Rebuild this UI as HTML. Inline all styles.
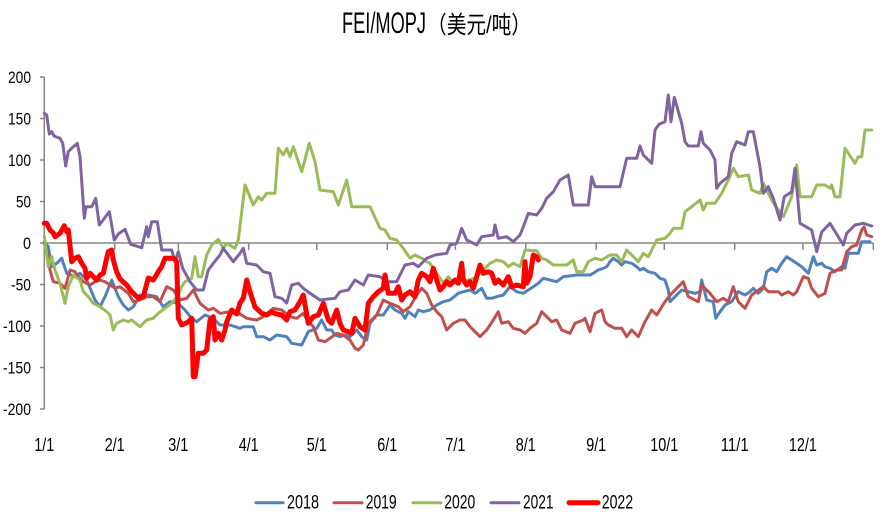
<!DOCTYPE html>
<html><head><meta charset="utf-8"><style>
html,body{margin:0;padding:0;background:#fff;}
svg{display:block;}
text{font-family:"Liberation Sans","Noto Sans CJK SC",sans-serif;fill:#000;}
</style></head><body>
<svg width="885" height="516" viewBox="0 0 885 516" xmlns="http://www.w3.org/2000/svg">
<rect width="885" height="516" fill="#fff"/>
<!-- title -->
<text x="342" y="33" font-size="30" textLength="84" lengthAdjust="spacingAndGlyphs">FEI/MOPJ</text>
<text x="427" y="33" font-size="24" font-family="'Liberation Sans','Noto Sans CJK SC',sans-serif" textLength="104" lengthAdjust="spacingAndGlyphs">（美元/吨）</text>

<!-- axes -->
<g stroke="#868686" stroke-width="1.5" fill="none">
<line x1="44.3" y1="77" x2="44.3" y2="409"/>
<line x1="40" y1="77" x2="44.3" y2="77"/>
<line x1="40" y1="118.5" x2="44.3" y2="118.5"/>
<line x1="40" y1="160" x2="44.3" y2="160"/>
<line x1="40" y1="201.5" x2="44.3" y2="201.5"/>
<line x1="40" y1="243" x2="44.3" y2="243"/>
<line x1="40" y1="284.5" x2="44.3" y2="284.5"/>
<line x1="40" y1="326" x2="44.3" y2="326"/>
<line x1="40" y1="367.5" x2="44.3" y2="367.5"/>
<line x1="40" y1="409" x2="44.3" y2="409"/>
<line x1="44.3" y1="243" x2="873.3" y2="243"/>
<line x1="114.7" y1="243" x2="114.7" y2="250"/>
<line x1="178.3" y1="243" x2="178.3" y2="250"/>
<line x1="248.7" y1="243" x2="248.7" y2="250"/>
<line x1="316.8" y1="243" x2="316.8" y2="250"/>
<line x1="387.3" y1="243" x2="387.3" y2="250"/>
<line x1="455.4" y1="243" x2="455.4" y2="250"/>
<line x1="525.8" y1="243" x2="525.8" y2="250"/>
<line x1="596.2" y1="243" x2="596.2" y2="250"/>
<line x1="664.3" y1="243" x2="664.3" y2="250"/>
<line x1="734.7" y1="243" x2="734.7" y2="250"/>
<line x1="802.9" y1="243" x2="802.9" y2="250"/>
<line x1="873.3" y1="243" x2="873.3" y2="250"/>
</g>

<!-- y labels -->
<g font-size="17" text-anchor="end">
<text x="31" y="83" textLength="23" lengthAdjust="spacingAndGlyphs">200</text>
<text x="31" y="124.5" textLength="23" lengthAdjust="spacingAndGlyphs">150</text>
<text x="31" y="166" textLength="23" lengthAdjust="spacingAndGlyphs">100</text>
<text x="31" y="207.5" textLength="15" lengthAdjust="spacingAndGlyphs">50</text>
<text x="31" y="249" textLength="8" lengthAdjust="spacingAndGlyphs">0</text>
<text x="31" y="290.5" textLength="20" lengthAdjust="spacingAndGlyphs">-50</text>
<text x="31" y="332" textLength="28" lengthAdjust="spacingAndGlyphs">-100</text>
<text x="31" y="373.5" textLength="28" lengthAdjust="spacingAndGlyphs">-150</text>
<text x="31" y="415" textLength="28" lengthAdjust="spacingAndGlyphs">-200</text>
</g>

<!-- x labels -->
<g font-size="18">
<text x="34.3" y="451" textLength="20" lengthAdjust="spacingAndGlyphs">1/1</text>
<text x="104.7" y="451" textLength="20" lengthAdjust="spacingAndGlyphs">2/1</text>
<text x="168.3" y="451" textLength="20" lengthAdjust="spacingAndGlyphs">3/1</text>
<text x="238.7" y="451" textLength="20" lengthAdjust="spacingAndGlyphs">4/1</text>
<text x="306.8" y="451" textLength="20" lengthAdjust="spacingAndGlyphs">5/1</text>
<text x="377.3" y="451" textLength="20" lengthAdjust="spacingAndGlyphs">6/1</text>
<text x="445.4" y="451" textLength="20" lengthAdjust="spacingAndGlyphs">7/1</text>
<text x="515.8" y="451" textLength="20" lengthAdjust="spacingAndGlyphs">8/1</text>
<text x="586.2" y="451" textLength="20" lengthAdjust="spacingAndGlyphs">9/1</text>
<text x="650.3" y="451" textLength="28" lengthAdjust="spacingAndGlyphs">10/1</text>
<text x="720.7" y="451" textLength="28" lengthAdjust="spacingAndGlyphs">11/1</text>
<text x="788.9" y="451" textLength="28" lengthAdjust="spacingAndGlyphs">12/1</text>
</g>

<!-- series -->
<g fill="none" stroke-linejoin="round" stroke-linecap="round">
<polyline stroke="#4F81BD" stroke-width="3" points="44.3,241.7 48.3,246.7 51.7,266.7 56.7,263.3 61.7,258.3 66.7,273.3 75,276.7 80,273.3 86.7,280 95,300 100,306.7 105,296.7 111.7,280 118.3,296.7 123.3,305 128.3,310 133.3,306.7 140,295 148.3,295 156.7,296.7 163.3,306.7 170,301.7 178.3,303.3 185,310 191.7,318.3 196.7,321.7 205,315 213.3,318.3 220,325 230,325 240,328.3 243.3,326.7 253.3,326.7 256.7,336.7 263.3,336.7 270,340 276.7,335 286.7,336.7 291.7,343.3 301.7,345 308.3,331.7 316.7,328.3 321.7,320 326.7,330 331.7,330 335,335 340,336.7 345,335 350,336.7 356.7,330 361.7,336.7 366.7,340 370,323.3 376.7,315 383.3,315 390,305 395,310 401.7,313.3 405,318.3 408.3,311.7 415,316.7 418.3,310 423.3,311.7 430,310 436.7,305 443.3,301.7 450,300 458.3,293.3 463.3,291.7 470,290 475,293.3 481.7,288.3 486.7,298.3 491.7,298.3 496.7,296.7 503.3,295 510,286.7 516.7,291.7 523.3,293.3 528.3,290 533.3,286.7 538.3,283.3 543.3,278.3 550,280 556.7,281.7 563.3,276.7 576.7,275 590,275 593.3,273.3 598.3,270 603.3,268.3 606.7,266.7 610,261.7 613.3,258.3 618.3,261.7 621.7,265 625,261.7 631.7,263.3 636.7,266.7 640,270 643.3,268.3 648.3,271.7 655,273.3 660,278.3 665,280 668.3,290 670,301.7 675,296.7 681.7,290 688.3,291.7 695,293.3 700,291.7 701.7,280 706.7,300 713.3,301.7 715.7,318.3 720,311.7 725,305 731.7,301.7 738.3,291.7 745,295 750,291.7 753.3,288.3 758.3,293.3 763.3,288.3 766.7,271.7 771.7,268.3 776.7,271.7 781.7,263.3 786.7,256.7 791.7,260 796.7,263.3 801.7,266.7 808.3,273.3 813.3,256.7 816.7,265 821.7,263.3 825,266.7 830,268.3 835,271.7 841.7,266.7 845,268.3 848.3,253.3 858.3,253.3 861.7,241.7 870,241.7"/>
<polyline stroke="#C0504D" stroke-width="3" points="44.3,243 46.7,250 50,270 53.3,281.7 60,283.3 65,288.3 70,270 75,271.7 78.3,276.7 83.3,281.7 90,285 95,281.7 100,280 105,281.7 110,285 115,288.3 120,286.7 128.3,293.3 133.3,301.7 140,300 146.7,296.7 153.3,296.7 160,301.7 166.7,286.7 173.3,290 180,300 186.7,298.3 193.3,290 200,303.3 208.3,310 213.3,308.3 220,313.3 230,311.7 236.7,311.7 246.7,318.3 256.7,320 263.3,316.7 273.3,308.3 281.7,310 290,316.7 296.7,318.3 303.3,313.3 308.3,321.7 313.3,326.7 318.3,340 325,341.7 330,338.3 336.7,333.3 343.3,335 350,340 355,348.3 358.3,350 363.3,345 368.3,323.3 376.7,315 383.3,300 390,303.3 398.3,306.7 403.3,311.7 410,306.7 416.7,295 421.7,288.3 426.7,293.3 431.7,305 436.7,311.7 441.7,316.7 446.7,330 453.3,323.3 460,320 465,320 470,326.7 475,331.7 480,336.7 486.7,330 493.3,320 498.3,311.7 501.7,323.3 508.3,321.7 513.3,328.3 520,330 525,333.3 530,328.3 536.7,323.3 541.7,311.7 546.7,316.7 551.7,321.7 556.7,320 561.7,330 570,333.3 575,323.3 583.3,320 585,318.3 590,331.7 595,313.3 601.7,310 605,321.7 608.3,325 615,328.3 621.7,328.3 626.7,336.7 631.7,330 638.3,336.7 645,321.7 651.7,310 656.7,315 665,301.7 671.7,293.3 683.3,281.7 688.3,296.7 698.3,301.7 701.7,285 710,293.3 716.7,301.7 723.3,298.3 728.3,301.7 733.3,286.7 738.3,301.7 745,308.3 751.7,295 763.3,286.7 768.3,291.7 778.3,291.7 781.7,295 788.3,291.7 793.3,295 796.7,291.7 803.3,276.7 808.3,278.3 811.7,288.3 818.3,296.7 825,293.3 830,273.3 836.7,270 841.7,270 846.7,251.7 851.7,246.7 856.7,245 861.7,230 864,227 866.7,235 871.7,236.7"/>
<polyline stroke="#9BBB59" stroke-width="3" points="44.3,236 48.3,266.7 51.7,256.7 55,270 60,283.3 65,303.3 68.3,286.7 73.3,275 80,280 83.3,291.7 88.3,296.7 93.3,303.3 100,306.7 106.7,311.7 110,315 113.3,330 116.7,323.3 123.3,320 128.3,321.7 131.7,320 140,326.7 146.7,320 153.3,318.3 158.3,313.3 165,308.3 171.7,303.3 178.3,295 181.7,286.7 185,281.7 191.7,278.3 195,256.7 198.3,276.7 201.7,276.7 206.7,255 211.7,245 218.3,239.3 223.3,248.3 226.7,243.3 235,248.3 238.3,240 245,185 253.3,205 258.3,196.7 261.7,200 266.7,193.3 275,193.3 278.3,148.3 283.3,155 286.7,148.3 290,156.7 293.3,146.7 301.7,171.7 309.3,143.3 315,161.7 320,190 333.3,191.7 338.3,205 346.7,180 351.7,206.7 370,206.7 380,228.3 385,230 390,238.3 396.7,240 403.3,248.3 410,258.3 415,255 421.7,258.3 426.7,261.7 430,263.3 436.7,273.3 443.3,283.3 448.3,276.7 453.3,283.3 460,280 470,280 476.7,276.7 483.3,270 490,263.3 496.7,260 503.3,261.7 508.3,266.7 513.3,263.3 520,266.7 525,250 536.7,250.7 541.7,258.3 546.7,260 553.3,265 566.7,265 573.3,260 576.7,271.7 583.3,271.7 588.3,261.7 595,258.3 601.7,260 610,255 616.7,255 621.7,261.7 626.7,250 631.7,255 638.3,261.7 643.3,253.3 648.3,256.7 656.7,240 665,238.3 670,233.3 673.3,228.3 681.7,228.3 685,211.7 691.7,206.7 700,200 703.3,210 706.7,203.3 715,203.3 721.7,193.3 728.3,180 733.3,168.3 738.3,176.7 748.3,175 751.7,190 760,193.3 763.3,183.3 771.7,200 778.3,210 783.3,216.7 788.3,205 791.7,196.7 796.7,165 800,196.7 811.7,196.7 816.7,185 825,185 830,188.3 831.7,185 835,196.7 840,196.7 845,148.3 855,163.3 858.3,156.7 861.7,156.7 865,130 871.7,130"/>
<polyline stroke="#8064A2" stroke-width="3" points="44.3,113.3 46.7,115 49.3,134 51.7,131.7 54,136 60,138.3 62.7,143.3 65.7,166 68.3,151.7 71.7,148.3 77.3,143.3 80,156.7 84.3,218.3 86,206.7 91.7,206.7 95.7,198.3 99.3,225 109.3,211.7 114.3,240 118.3,234 125,229.3 130.7,244.3 141.7,247.7 146.7,226.7 148.3,236.7 151.7,221.7 157.3,221.7 161.7,250 171.7,250 175,261.7 178.3,251.7 182.7,268.3 190,281.7 196.7,290 203.3,290 208.3,270 213.3,263.3 220,255 223.3,248.3 228.3,255 233.3,261.7 240,253.3 243.3,248.3 246.7,263.3 256.7,265 263.3,271.7 270,273.3 275,296.7 281.7,298.3 286.7,303 291.7,285 298.3,283.3 303.3,288.3 310,293.3 320,300 335,298.3 340,291.7 348.3,290 355,280 363.3,285 368.3,275 380,276.7 386.7,281.7 396.7,281.7 405,265 413.3,263.3 418.3,266.7 426.7,258.3 435,255 446.7,253.3 450,245 456.7,243.3 461.7,228.3 466.7,240 476.7,245 481.7,236.7 493.3,235 495,225 498.3,238.3 506.7,236.7 513.3,241.7 520,235 523.3,226.7 528.3,213.3 536.7,215 541.7,208.3 546.7,198.3 553.3,191.7 560,180 568.3,175 573.3,205 586.7,205 588.3,205 591.7,176.7 595,186.7 620,186.7 626.7,158.3 636.7,158.3 640,146 643.3,155 651.7,163.3 655,130 659,124.3 665,121.7 668.3,95 671,121.7 674.3,97.3 681.7,123.3 685,141.7 688.3,146 698.3,146 701,131.7 703.3,143.3 710,150 715,160 716.7,188.3 720,183.3 728.3,176.7 731.7,153.3 736.7,141.7 745,145 748.3,131.7 753.3,131.7 760,166.7 763.3,193.3 768.3,186.7 773.3,198.3 780,220 784.3,196.7 791.7,191.7 795,168.3 800,223.3 811.7,230 816.7,251.7 821.7,232 830,223.3 843.3,245 846.7,233.3 855,225 863.3,223.3 871.7,226"/>
<polyline stroke="#FF0000" stroke-width="5" points="44.3,223.3 46.7,223.3 50,230 53.3,233 55,236.7 60,233.3 64.3,225.7 66.7,231.7 68.3,230 71.7,261.7 75,258.3 78.3,256.7 81.7,263.3 85,268.3 86.7,278.3 90,273.3 96.7,280 100,275 103.3,273.3 106.7,258 108.3,251.7 111.7,250 113.3,260 116.7,272 120,279 126.7,285 131.7,291.7 138.3,298 143.3,296.7 148.3,278 153.3,280 158.3,271.7 161.7,266.7 165,258.3 171.7,258.3 175,259 176.7,262 178.3,318.3 181.7,325 188.3,322 191.7,318.3 193.3,376.7 195,376.7 198.3,353.3 203.3,353.3 206.7,350 210,320 213.3,316.7 215,340 218.3,333.3 221.7,340 225,330 226.7,322 231.7,310 236.7,314 240,303 243.3,298 246.7,280 250,292 255,307 261.7,313.3 266.7,315 271.7,312 276.7,314 281.7,315 286.7,320 290,311.7 295,310 300,301.7 303.3,295 308.3,323.3 313.3,316.7 318.3,315 323.3,303.3 328.3,320 331.7,323.3 336.7,310 340,323.3 343.3,330 348.3,331.7 351.7,333.3 355,318.3 360,326.7 365,330 368.3,303.3 373.3,296.7 378.3,291.7 383.3,288.3 385,275 388.3,293.3 395,293.3 398.3,286.7 401.7,300 405,295 410,291.7 415,296.7 418.3,280 421.7,273.3 426.7,276.7 430,281.7 433.3,268.3 436.7,280 440,290 443.3,286.7 446.7,281.7 450,285 455,280 458.3,283.3 461.7,263.3 463.3,280 466.7,285 470,281.7 473.3,288.3 476.7,276.7 480,265 483.3,273.3 488.3,271.7 491.7,273.3 495,283.3 498.3,280 503.3,285 508.3,276.7 511.7,286.7 516.7,285 523.3,286.7 525,261.7 526.7,283.3 530,276.7 533.3,255 536.7,256.7 538.3,260"/>
</g>

<!-- legend -->
<g stroke-linecap="round">
<line x1="256" y1="502.7" x2="283" y2="502.7" stroke="#4F81BD" stroke-width="3"/>
<line x1="334" y1="502.7" x2="362" y2="502.7" stroke="#C0504D" stroke-width="3"/>
<line x1="413" y1="502.7" x2="441" y2="502.7" stroke="#9BBB59" stroke-width="3"/>
<line x1="491" y1="502.7" x2="519" y2="502.7" stroke="#8064A2" stroke-width="3"/>
<line x1="569" y1="502.7" x2="598" y2="502.7" stroke="#FF0000" stroke-width="5"/>
</g>
<g font-size="19">
<text x="287" y="508.5" textLength="32" lengthAdjust="spacingAndGlyphs">2018</text>
<text x="365.7" y="508.5" textLength="31" lengthAdjust="spacingAndGlyphs">2019</text>
<text x="444.3" y="508.5" textLength="31" lengthAdjust="spacingAndGlyphs">2020</text>
<text x="523" y="508.5" textLength="30.5" lengthAdjust="spacingAndGlyphs">2021</text>
<text x="601.7" y="508.5" textLength="31.5" lengthAdjust="spacingAndGlyphs">2022</text>
</g>
</svg>
</body></html>
